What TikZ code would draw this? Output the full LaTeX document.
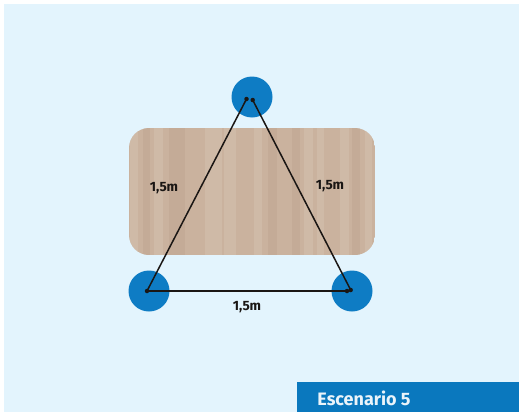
\documentclass[tikz,border=0pt]{standalone}
\usepackage{fontspec}
\setmainfont{Fira Sans}
\definecolor{bgblue}{HTML}{E3F4FD}
\definecolor{seatblue}{HTML}{0E7CC4}
\definecolor{bannerblue}{HTML}{0A78BE}
\definecolor{wood}{HTML}{CAB29E}
\definecolor{woodlight}{HTML}{D8C6B5}
\definecolor{wooddark}{HTML}{BBA28D}
\definecolor{ink}{HTML}{1A1614}
\tikzset{
  x=1pt,y=-1pt,
  seat/.style={circle,fill=seatblue,minimum size=41pt,inner sep=0pt,draw=none},
  pin/.style={circle,fill=ink,minimum size=4.5pt,inner sep=0pt,draw=none},
  link/.style={draw=ink,line width=1.5pt},
  dist/.style={font=\bfseries\fontsize{13.5}{15}\selectfont,text=ink,inner sep=0pt},
  bannertext/.style={font=\bfseries\fontsize{18}{20}\selectfont,text=white!92!bannerblue,inner sep=0pt},
  grain/.style={line width=#1,line cap=butt}
}
\begin{document}
\begin{tikzpicture}
\useasboundingbox (0,0) rectangle (519,415);
\fill[white] (0,0) rectangle (519,415);
\fill[bgblue] (4,4) rectangle (519,412);
% table
\begin{scope}
\clip[rounded corners=20pt] (129,128) rectangle (375,255);
\fill[wood] (129,128) rectangle (375,255);
\foreach \gx/\gw/\gc in {
  134/8/woodlight,146/7/wooddark,158/9/woodlight,172/6/wooddark,180/10/wooddark,193/8/wood,
  208/7/woodlight,217/10/woodlight,230/12/woodlight,246/9/wood,258/8/woodlight,
  272/9/wooddark,284/7/wood,296/8/wooddark,308/9/woodlight,320/7/woodlight,332/8/wood,
  344/9/woodlight,356/8/wooddark,368/7/woodlight}
  \draw[\gc,grain=\gw pt,opacity=.4] (\gx,128) -- (\gx,255);
\end{scope}
% seats
\node[seat] (seatT) at (252,97) {};
\node[seat] (seatL) at (149,291) {};
\node[seat] (seatR) at (352,291) {};
% pins
\node[pin] (pT1) at (246.5,99) {};
\node[pin] (pT2) at (252.7,100) {};
\node[pin] (pL) at (147,291) {};
\node[pin] (pR1) at (347,291) {};
\node[pin] (pR2) at (350.7,290) {};
% connectors
\draw[link] (pL.center) -- (pT1.center);
\draw[link] (pT2.center) -- (pR2.center);
\draw[link] (pL.center) -- (pR1.center);
% labels
\node[dist] (dL) at (164,188) {1,5m};
\node[dist] (dR) at (330,186) {1,5m};
\node[dist] (dB) at (247,307) {1,5m};
% banner
\fill[bannerblue] (297,382) rectangle (519,412);
\node[bannertext] (title) at (364,398) {Escenario 5};
\end{tikzpicture}
\end{document}
